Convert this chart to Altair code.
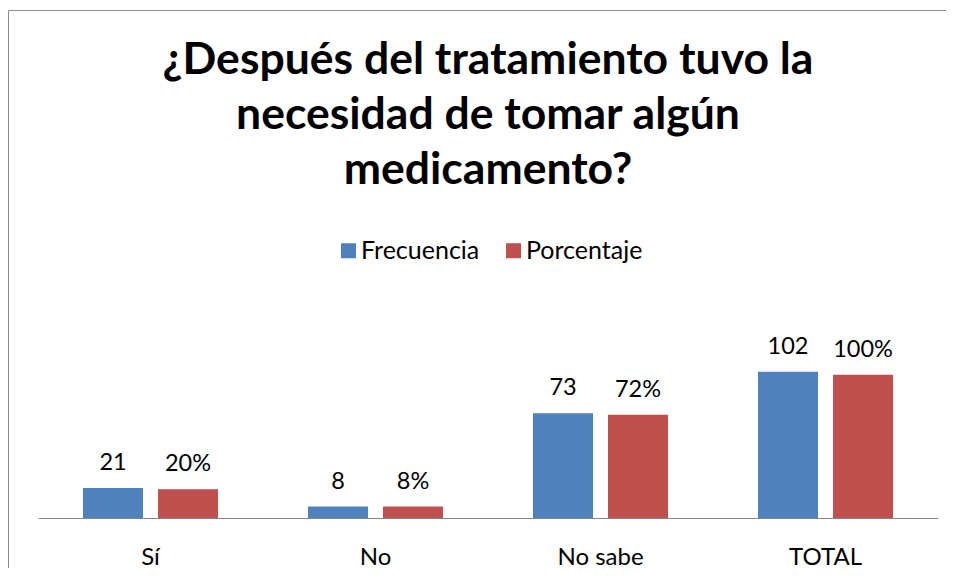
import altair as alt
import pandas as pd

categorias = ["Sí", "No", "No sabe", "TOTAL"]
frecuencia = [21, 8, 73, 102]
porcentaje = [20, 8, 72, 100]
series = ["Frecuencia", "Porcentaje"]
colores = ["#4F81BD", "#C0504D"]
titulo = ["¿Después del tratamiento tuvo la", "necesidad de tomar algún", "medicamento?"]

rows = []
for c, f, p in zip(categorias, frecuencia, porcentaje):
    rows.append({"cat": c, "serie": series[0], "valor": f, "etiqueta": f"{f}"})
    rows.append({"cat": c, "serie": series[1], "valor": p, "etiqueta": f"{p}%"})
df = pd.DataFrame(rows)

FONT = "Lato"

x = alt.X("cat:N", sort=categorias, title=None,
          scale=alt.Scale(paddingInner=0, paddingOuter=0),
          axis=alt.Axis(labelAngle=0, labelFontSize=24, labelFont=FONT, labelColor="#000000",
                        ticks=False, domainColor="#868686", domainWidth=1.2, labelPadding=27,
                        grid=False))
y = alt.Y("valor:Q", title=None, scale=alt.Scale(domain=[0, 120], nice=False), axis=None)
xo = alt.XOffset("serie:N", sort=series,
                 scale=alt.Scale(paddingInner=0.2, paddingOuter=0.6))

bars = alt.Chart(df).mark_bar().encode(
    x=x, y=y, xOffset=xo,
    color=alt.Color("serie:N", sort=series, scale=alt.Scale(domain=series, range=colores),
                    legend=alt.Legend(title=None, orient="none", legendX=298, legendY=-108,
                                      direction="horizontal", symbolType="square",
                                      symbolSize=225, symbolStrokeWidth=0,
                                      labelFontSize=25, labelFont=FONT, labelColor="#000000",
                                      columnPadding=21, labelOffset=0, padding=0)),
)

labels = alt.Chart(df).mark_text(baseline="alphabetic", dy=-18, fontSize=23.5, font=FONT,
                                 color="#000000").encode(
    x=x, y=y, xOffset=xo, text="etiqueta:N"
)

one = alt.Data(values=[{}])
border_top = alt.Chart(one).mark_rule(color="#8c8c8c", strokeWidth=1).encode(
    x=alt.value(-29.5), x2=alt.value(940), y=alt.value(-335.5)
)
border_left = alt.Chart(one).mark_rule(color="#8c8c8c", strokeWidth=1).encode(
    x=alt.value(-29.5), y=alt.value(-335.5), y2=alt.value(240)
)

chart = alt.layer(border_top, border_left, bars, labels).properties(
    width=900, height=172,
    title=alt.TitleParams(titulo, font=FONT, fontSize=44.5, fontWeight="bold", color="#000000",
                          anchor="middle", lineHeight=55, offset=-183),
    autosize=alt.AutoSizeParams(type="none"),
    padding={"left": 30, "top": 338, "right": 8, "bottom": 50},
).configure_view(stroke=None)

chart.save("out.html", embed_options={"renderer": "svg", "actions": False})
